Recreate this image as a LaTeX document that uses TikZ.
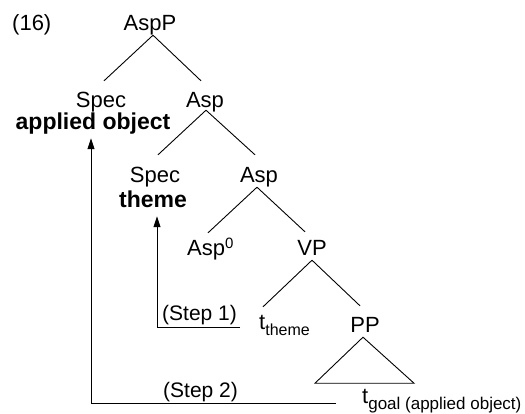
\documentclass[tikz,border=0pt]{standalone}
\usepackage{fontspec}
\setmainfont{Liberation Sans}
\usetikzlibrary{calc,arrows.meta}
\tikzset{
  cat/.style={font=\fontsize{22}{26}\selectfont, inner sep=0pt, text height=16pt, text depth=4.5pt, anchor=base},
  boldlab/.style={font=\fontsize{23}{26}\selectfont\bfseries, inner sep=0pt, text height=15pt, text depth=5pt, anchor=base},
  steplab/.style={font=\fontsize{21}{24}\selectfont, inner sep=0pt, anchor=base west},
  branch/.style={line width=0.9pt},
  move/.style={line width=0.9pt, -{Triangle[length=11pt,width=7pt]}}
}
\newcommand{\subtxt}[2]{\raisebox{-6pt}{\fontsize{#1}{#1}\selectfont #2}}
\begin{document}
\begin{tikzpicture}[x=1pt,y=-1pt]
\useasboundingbox (0,0) rectangle (525,413);
% labels
\node[cat, anchor=base west] (num) at (12,30) {(16)};
\node[cat] (aspP) at (150,30) {AspP};
\node[cat] (spec1) at (101,107) {Spec};
\node[boldlab] (appobj) at (93,129) {applied object};
\node[cat] (asp1) at (205,107) {Asp};
\node[cat] (spec2) at (155,182) {Spec};
\node[boldlab] (theme) at (153,207) {theme};
\node[cat] (asp2) at (259,182) {Asp};
\node[cat, anchor=base west] (asp0) at (187,255) {Asp\raisebox{7pt}{\fontsize{15}{15}\selectfont 0}};
\node[cat] (vp) at (312,255) {VP};
\node[cat, anchor=base west] (ttheme) at (259,329) {t\subtxt{16}{theme}};
\node[cat] (pp) at (365,332) {PP};
\node[cat, anchor=base west] (tgoal) at (362,403.5) {t\subtxt{17}{goal (applied object)}};
\node[steplab] (step1) at (162,320) {(Step 1)};
\node[steplab] (step2) at (163,397) {(Step 2)};
% branches
\draw[branch] ($(aspP.south)+(3,0.5)$) -- ($(spec1.north)+(3,-10)$);
\draw[branch] ($(aspP.south)+(3,0.5)$) -- ($(asp1.north)+(-4,-10)$);
\draw[branch] ($(asp1.south)+(1,-1.5)$) -- ($(spec2.north)+(3,-11)$);
\draw[branch] ($(asp1.south)+(1,-1.5)$) -- ($(asp2.north)+(-4,-11)$);
\draw[branch] ($(asp2.south)+(-2,0.5)$) -- ($(asp0.north west)+(21,-6)$);
\draw[branch] ($(asp2.south)+(-2,0.5)$) -- ($(vp.north)+(-7,-7)$);
\draw[branch] ($(vp.south)+(0,0.5)$) -- ($(ttheme.north west)+(4,-6)$);
\draw[branch] ($(vp.south)+(0,0.5)$) -- ($(pp.north)+(-5,-10)$);
\draw[branch, line join=miter] ($(pp.south)+(-2,0.5)$) -- ++(-48,46) -- ++(99,0) -- cycle;
% movement arrows
\draw[move] ($(ttheme.base west)+(-19,-2)$) -| ($(theme.south)+(4,4)$);
\draw[move] ($(tgoal.base west)+(-26,-0.5)$) -| ($(appobj.south)+(-2,4)$);
\end{tikzpicture}
\end{document}
